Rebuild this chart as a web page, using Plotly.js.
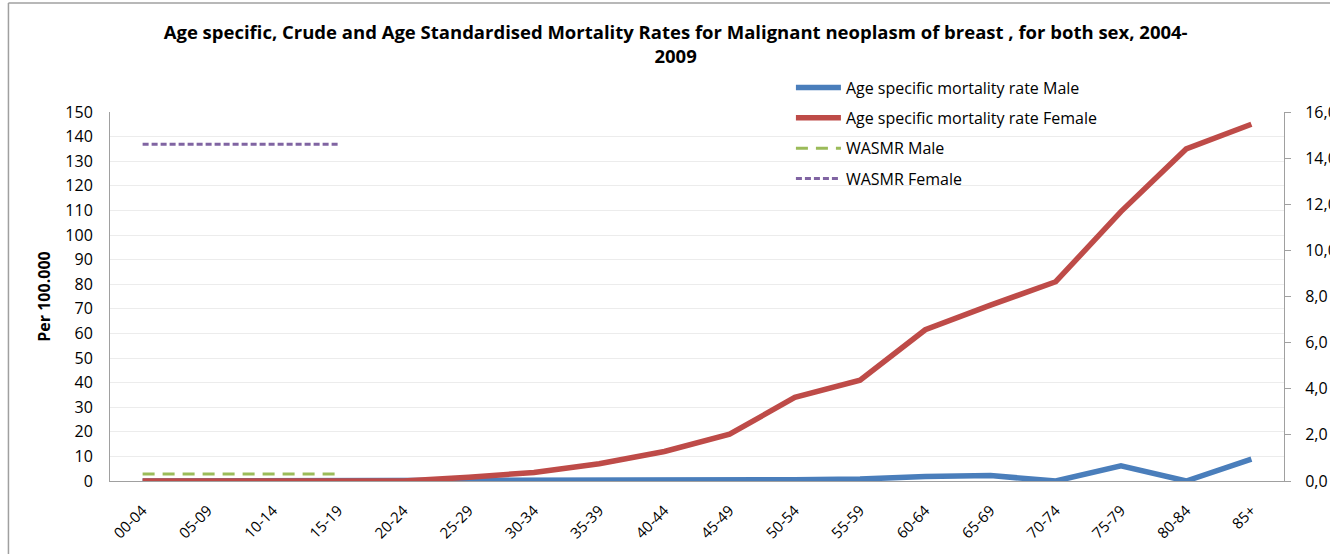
<!DOCTYPE html>
<html><head><meta charset="utf-8">
<script src="https://cdn.plot.ly/plotly-3.0.1.min.js"></script>
<style>html,body{margin:0;padding:0;background:#fff}#chart{width:1330px;height:554px}</style>
</head><body><div id="chart"></div>
<script>
const ageGroups = ["00-04","05-09","10-14","15-19","20-24","25-29","30-34","35-39","40-44","45-49","50-54","55-59","60-64","65-69","70-74","75-79","80-84","85+"];
const maleRate = [0,0,0,0,0,0,0,0,0,0,0.5,0.8,1.8,2.2,0,6.2,0,8.9];
const femaleRate = [0,0,0,0,0,1.5,3.5,7,12,19,34,41,61.5,71.5,81,109.5,135,145];
const wasmrGroups = ["00-04","05-09","10-14","15-19"];
const wasmrMale = [0.3,0.3,0.3,0.3];
const wasmrFemale = [14.6,14.6,14.6,14.6];

const font = "Open Sans, Liberation Sans, sans-serif";
const traces = [
  {x: ageGroups, y: maleRate, name: "Age specific mortality rate Male", type: "scatter", mode: "lines",
   line: {color: "#4A7EBB", width: 5.5}, legendgroup: "a"},
  {x: ageGroups, y: femaleRate, name: "Age specific mortality rate Female", type: "scatter", mode: "lines",
   line: {color: "#BE4B48", width: 5.5}, legendgroup: "b"},
  {x: wasmrGroups, y: wasmrMale, name: "WASMR Male", type: "scatter", mode: "lines", yaxis: "y2",
   line: {color: "#9BBB59", width: 3, dash: "12px,8px"}, legendgroup: "c"},
  {x: wasmrGroups, y: wasmrFemale, name: "WASMR Female", type: "scatter", mode: "lines", yaxis: "y2",
   line: {color: "#8064A2", width: 3, dash: "6px,3px"}, legendgroup: "d"}
];
const layout = {
  width: 1330, height: 554,
  margin: {l: 110, r: 46, t: 112, b: 73},
  paper_bgcolor: "#fff", plot_bgcolor: "#fff",
  separators: ", ",
  font: {family: font, color: "#000", size: 16},
  title: {text: "<b>Age specific, Crude and Age Standardised Mortality Rates for Malignant neoplasm of breast , for both sex, 2004-<br>2009</b>",
          font: {size: 18.5, family: font, color: "#000"}, x: 0.508, xanchor: "center", y: 0.93, yanchor: "top"},
  xaxis: {type: "category", categoryorder: "array", categoryarray: ageGroups, range: [-0.5, 17.5],
          showgrid: false, showline: true, linecolor: "#a0a0a0", linewidth: 1, ticks: "",
          tickangle: -45, tickfont: {size: 15}, zeroline: false, ticklabelstandoff: 14},
  yaxis: {range: [0, 150], dtick: 10, showgrid: true, gridcolor: "#ececec", showline: true,
          linecolor: "#a0a0a0", ticks: "", zeroline: false, tickfont: {size: 16}, ticklabelstandoff: 13,
          title: {text: "<b>Per 100.000</b>", font: {size: 16}, standoff: 10}},
  yaxis2: {range: [0, 16], dtick: 2, tickformat: ".1f", overlaying: "y", side: "right", showgrid: false,
           showline: true, linecolor: "#a0a0a0", ticks: "outside", ticklen: 6, tickcolor: "#a0a0a0",
           zeroline: false, tickfont: {size: 16}, ticklabelstandoff: 11},
  showlegend: true,
  legend: {x: 0.58, y: 1.112, xanchor: "left", yanchor: "top", bgcolor: "rgba(0,0,0,0)",
           font: {size: 16}, tracegroupgap: 6.5, itemwidth: 45, traceorder: "grouped"},
  shapes: [
    {type: "line", xref: "paper", yref: "paper", x0: -0.0865, x1: -0.0865, y0: -0.3, y1: 1.2954, line: {color: "#a0a0a0", width: 1.5}},
    {type: "line", xref: "paper", yref: "paper", x0: -0.0865, x1: 1.1, y0: 1.2954, y1: 1.2954, line: {color: "#a0a0a0", width: 1.5}}
  ],
  hovermode: false
};
Plotly.newPlot("chart", traces, layout, {displayModeBar: false, staticPlot: true});
</script></body></html>
